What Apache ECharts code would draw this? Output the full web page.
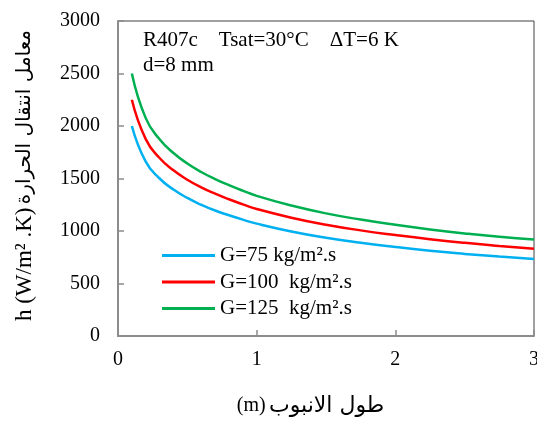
<!DOCTYPE html>
<html>
<head>
<meta charset="utf-8">
<script src="https://cdn.jsdelivr.net/npm/echarts@6/dist/echarts.min.js"></script>
<style>html,body{margin:0;padding:0;background:#fff}#c{width:537px;height:422px}</style>
</head>
<body>
<div id="c"></div>
<script>
var lengths = [0.1, 0.2, 0.3, 0.4, 0.5, 0.6, 0.7, 0.8, 0.9, 1.0, 1.25, 1.5, 1.75, 2.0, 2.25, 2.5, 2.75, 3.0];
var hG75  = [2000, 1660, 1500, 1395, 1315, 1250, 1195, 1150, 1108, 1070, 995, 935, 888, 848, 812, 782, 756, 733];
var hG100 = [2250, 1875, 1695, 1578, 1488, 1415, 1355, 1302, 1254, 1210, 1127, 1060, 1006, 961, 921, 887, 858, 832];
var hG125 = [2500, 2075, 1873, 1743, 1643, 1562, 1495, 1437, 1384, 1335, 1243, 1168, 1109, 1059, 1015, 977, 945, 920];
var seriesNames = ['G=75 kg/m\u00b2.s', 'G=100  kg/m\u00b2.s', 'G=125  kg/m\u00b2.s'];
var seriesColors = ['#00b0f0', '#ff0000', '#00b050'];
var xTitleUnit = '(m)';
var xTitleText = '\u0637\u0648\u0644 \u0627\u0644\u0627\u0646\u0628\u0648\u0628';
var yTitleUnit = 'h (W/m\u00b2 .K)';
var yTitleText = '\u0645\u0639\u0627\u0645\u0644 \u0627\u0646\u062a\u0642\u0627\u0644 \u0627\u0644\u062d\u0631\u0627\u0631\u0629';
var note1 = 'R407c    Tsat=30\u00b0C    \u0394T=6 K';
var note2 = 'd=8 mm';

function pairs(ys) { return lengths.map(function (x, i) { return [x, ys[i]]; }); }
var FONT = "'Liberation Serif', 'Times New Roman', serif";
var AFONT = "'DejaVu Sans', 'Noto Sans', sans-serif";
var axisGrey = '#8c8c8c';

var chart = echarts.init(document.getElementById('c'), null, {renderer: 'canvas'});
chart.setOption({
  animation: false,
  backgroundColor: '#fff',
  grid: {left: 118, right: 3, top: 21, bottom: 86, show: true, borderColor: '#404040', borderWidth: 1,
         backgroundColor: 'transparent', outerBoundsMode: 'none', containLabel: false},
  xAxis: {
    type: 'value', min: 0, max: 3, interval: 1,
    name: '{u|' + xTitleUnit + '} {a|' + xTitleText + '}', nameLocation: 'middle', nameGap: 59,
    nameTextStyle: {color: '#000', padding: [0, 31, 0, 0],
      rich: {u: {fontFamily: FONT, fontSize: 20, color: '#000'}, a: {fontFamily: AFONT, fontSize: 22, color: '#000'}}},
    axisLine: {show: true, lineStyle: {color: axisGrey, width: 2}},
    axisTick: {show: true, inside: true, length: 6, lineStyle: {color: axisGrey, width: 1.5}},
    axisLabel: {fontFamily: FONT, fontSize: 20, color: '#000', margin: 14},
    splitLine: {show: false}
  },
  yAxis: {
    type: 'value', min: 0, max: 3000, interval: 500,
    name: '{u|' + yTitleUnit + '} {a|' + yTitleText + '}', nameLocation: 'middle', nameGap: 82, nameRotate: 90,
    nameTextStyle: {color: '#000', padding: [0, 0, 0, 6],
      rich: {u: {fontFamily: FONT, fontSize: 23, color: '#000'}, a: {fontFamily: AFONT, fontSize: 20, color: '#000'}}},
    axisLine: {show: true, lineStyle: {color: axisGrey, width: 2}},
    axisTick: {show: true, inside: true, length: 6, lineStyle: {color: axisGrey, width: 1.5}},
    axisLabel: {fontFamily: FONT, fontSize: 20, color: '#000', margin: 18, formatter: function (v) { return String(v); }},
    splitLine: {show: false}
  },
  legend: {
    orient: 'vertical', left: 162, top: 245, padding: 0,
    icon: 'rect', itemWidth: 53, itemHeight: 3, itemGap: 5.5,
    textStyle: {fontFamily: FONT, fontSize: 21, color: '#000', lineHeight: 21},
    data: seriesNames
  },
  graphic: [
    {type: 'text', left: 143, top: 30, style: {text: note1, font: "21px 'Liberation Serif', serif", fill: '#000'}},
    {type: 'text', left: 143, top: 55, style: {text: note2, font: "21px 'Liberation Serif', serif", fill: '#000'}}
  ],
  series: [hG75, hG100, hG125].map(function (ys, i) {
    return {
      name: seriesNames[i], type: 'line', smooth: 0.5, symbol: 'none',
      color: seriesColors[i],
      lineStyle: {color: seriesColors[i], width: 2.5},
      data: pairs(ys)
    };
  })
});
</script>
</body>
</html>
